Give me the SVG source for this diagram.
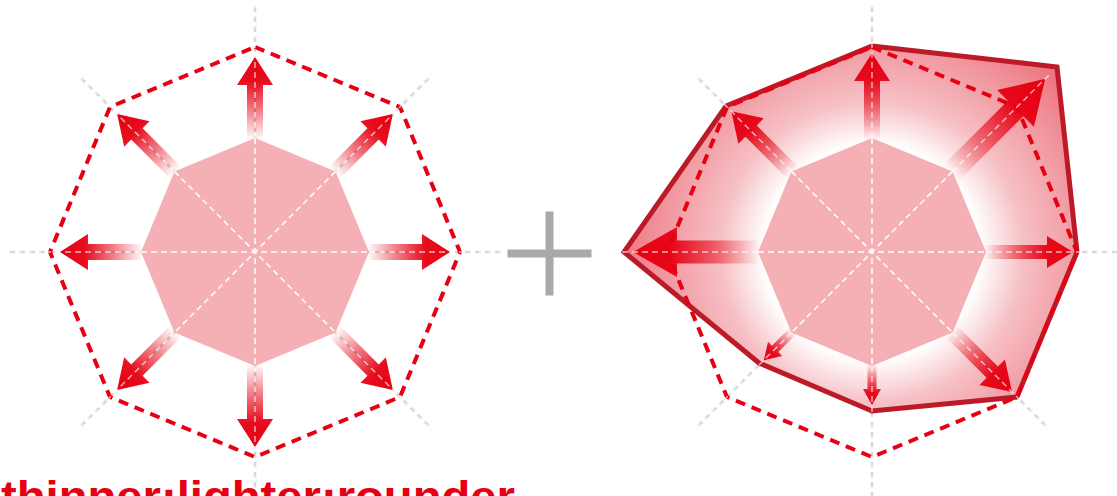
<svg xmlns="http://www.w3.org/2000/svg" width="1117" height="496" viewBox="0 0 1117 496">
<style>
.axg{fill:none;stroke:#d9d9d9;stroke-width:2.6;stroke-dasharray:6 4}
.axw{fill:none;stroke:#ffffff;stroke-width:1.5;stroke-dasharray:6 4}
.axo{fill:none;stroke:#ffffff;stroke-width:1.4;stroke-dasharray:6 4;opacity:0.7}
.inner{fill:#f5b0b6}
.dash{fill:none;stroke:#e60012;stroke-width:4;stroke-dasharray:10 7}
.arrow{fill:url(#ag)}
.label{font-family:"Liberation Sans",Arial,sans-serif;font-weight:bold;font-size:44px;fill:#e60012}
</style>
<defs>
<linearGradient id="ag" x1="0" y1="0" x2="1" y2="0">
<stop offset="0" stop-color="#e60012" stop-opacity="0"/>
<stop offset="0.35" stop-color="#e60012" stop-opacity="0.5"/>
<stop offset="0.7" stop-color="#e60012" stop-opacity="0.95"/>
<stop offset="1" stop-color="#e60012"/>
</linearGradient>
<radialGradient id="pg" gradientUnits="userSpaceOnUse" cx="872" cy="252" r="270">
<stop offset="0.4" stop-color="#ffffff"/>
<stop offset="0.56" stop-color="#f6c0c5"/>
<stop offset="1" stop-color="#ec6a76"/>
</radialGradient>
</defs>

<g id="left-diagram">
<path class="axg" d="M255,252 L255,2 M255,252 L431.8,75.2 M255,252 L505,252 M255,252 L431.8,428.8 M255,252 L255,502 M255,252 L78.2,428.8 M255,252 L5,252 M255,252 L78.2,75.2"/>
<polygon id="left-inner" class="inner" points="255,138 335.6,171.4 369,252 335.6,332.6 255,366 174.4,332.6 141,252 174.4,171.4"/>
<g id="left-arrows">
<path class="arrow" transform="translate(255,252) rotate(-90) translate(112,0)" d="M0,-8 L55,-8 L55,-18 L83,0 L55,18 L55,8 L0,8 Z"/>
<path class="arrow" transform="translate(255,252) rotate(-45) translate(112,0)" d="M0,-8 L55,-8 L55,-18 L83,0 L55,18 L55,8 L0,8 Z"/>
<path class="arrow" transform="translate(255,252) rotate(0) translate(112,0)" d="M0,-8 L55,-8 L55,-18 L83,0 L55,18 L55,8 L0,8 Z"/>
<path class="arrow" transform="translate(255,252) rotate(45) translate(112,0)" d="M0,-8 L55,-8 L55,-18 L83,0 L55,18 L55,8 L0,8 Z"/>
<path class="arrow" transform="translate(255,252) rotate(90) translate(112,0)" d="M0,-8 L55,-8 L55,-18 L83,0 L55,18 L55,8 L0,8 Z"/>
<path class="arrow" transform="translate(255,252) rotate(135) translate(112,0)" d="M0,-8 L55,-8 L55,-18 L83,0 L55,18 L55,8 L0,8 Z"/>
<path class="arrow" transform="translate(255,252) rotate(180) translate(112,0)" d="M0,-8 L55,-8 L55,-18 L83,0 L55,18 L55,8 L0,8 Z"/>
<path class="arrow" transform="translate(255,252) rotate(-135) translate(112,0)" d="M0,-8 L55,-8 L55,-18 L83,0 L55,18 L55,8 L0,8 Z"/>
</g>
<polygon id="left-outer" class="dash" points="255,47 400,107 460,252 400,397 255,457 110,397 50,252 110,107"/>
<path class="axw" d="M255,138 V366 M141,252 H369 M174.4,171.4 L335.6,332.6 M335.6,171.4 L174.4,332.6"/>
<path class="axo" d="M255,138 L255,2 M335.6,171.4 L431.8,75.2 M369,252 L505,252 M335.6,332.6 L431.8,428.8 M255,366 L255,502 M174.4,332.6 L78.2,428.8 M141,252 L5,252 M174.4,171.4 L78.2,75.2"/>
</g>

<g id="plus">
<rect x="545.5" y="211.5" width="8" height="84" fill="#a9a9a9"/>
<rect x="507.5" y="249.5" width="84" height="8" fill="#a9a9a9"/>
</g>

<g id="right-diagram">
<path class="axg" d="M872,252 L872,2 M872,252 L1048.8,75.2 M872,252 L1122,252 M872,252 L1048.8,428.8 M872,252 L872,502 M872,252 L695.2,428.8 M872,252 L622,252 M872,252 L695.2,75.2"/>
<polygon id="right-shape" points="872,46 1057,67 1077,252 1017,397 872,411 759,363 624,252 726,106" fill="url(#pg)" stroke="#bd1a27" stroke-width="5" stroke-linejoin="miter"/>
<polygon id="right-inner" class="inner" points="872,138 952.6,171.4 986,252 952.6,332.6 872,366 791.4,332.6 758,252 791.4,171.4"/>
<g id="right-arrows">
<path class="arrow" transform="translate(872,252) rotate(-90) translate(112,0)" d="M0,-8 L59,-8 L59,-18 L87,0 L59,18 L59,8 L0,8 Z"/>
<path class="arrow" transform="translate(872,252) rotate(-45) translate(112,0)" d="M0,-11 L91,-11 L91,-26 L133,0 L91,26 L91,11 L0,11 Z"/>
<path class="arrow" transform="translate(872,252) rotate(0) translate(112,0)" d="M0,-7 L63,-7 L63,-16 L89,0 L63,16 L63,7 L0,7 Z"/>
<path class="arrow" transform="translate(872,252) rotate(45) translate(112,0)" d="M0,-8 L58,-8 L58,-18 L86,0 L58,18 L58,8 L0,8 Z"/>
<path class="arrow" transform="translate(872,252) rotate(90) translate(112,0)" d="M0,-4.5 L25,-4.5 L25,-9 L41,0 L25,9 L25,4.5 L0,4.5 Z"/>
<path class="arrow" transform="translate(872,252) rotate(135) translate(112,0)" d="M0,-4.5 L25,-4.5 L25,-10 L41,0 L25,10 L25,4.5 L0,4.5 Z"/>
<path class="arrow" transform="translate(872,252) rotate(180) translate(112,0)" d="M0,-11.5 L83,-11.5 L83,-25 L127,0 L83,25 L83,11.5 L0,11.5 Z"/>
<path class="arrow" transform="translate(872,252) rotate(-135) translate(112,0)" d="M0,-8 L59,-8 L59,-18 L87,0 L59,18 L59,8 L0,8 Z"/>
</g>
<polygon id="right-outer" class="dash" points="872,47 1017,107 1077,252 1017,397 872,457 727,397 667,252 727,107"/>
<path class="axw" d="M872,138 V366 M758,252 H986 M791.4,171.4 L952.6,332.6 M952.6,171.4 L791.4,332.6"/>
<path class="axo" d="M872,138 L872,2 M952.6,171.4 L1048.8,75.2 M986,252 L1122,252 M952.6,332.6 L1048.8,428.8 M872,366 L872,502 M791.4,332.6 L695.2,428.8 M758,252 L622,252 M791.4,171.4 L695.2,75.2"/>
</g>

<g id="caption">
<text class="label" x="1" y="512" textLength="514" lengthAdjust="spacingAndGlyphs">thinner:lighter:rounder</text>
</g>
</svg>
